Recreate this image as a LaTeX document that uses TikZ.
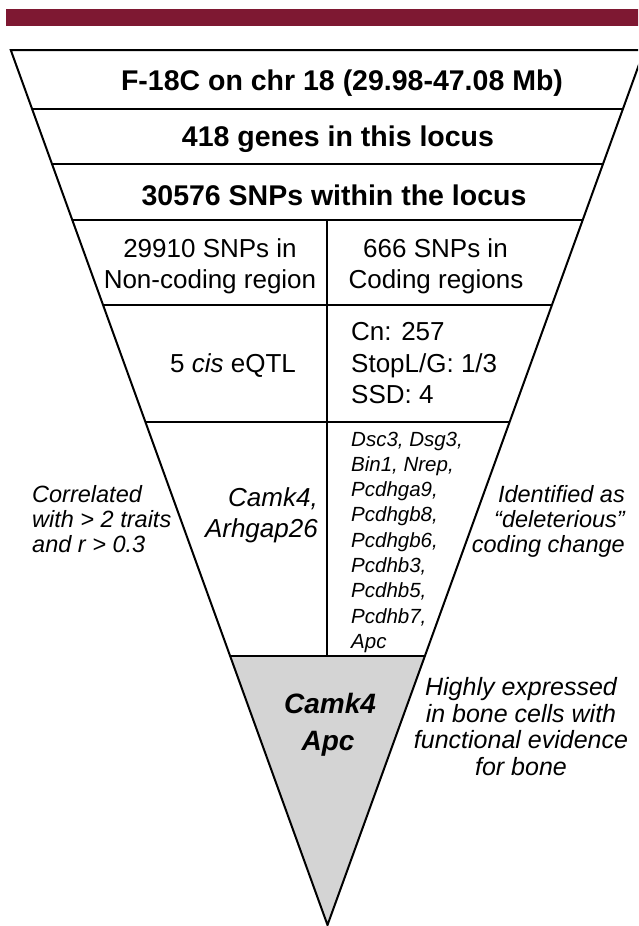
\documentclass[tikz,border=0pt]{standalone}
\usepackage{fontspec}
\setmainfont{Liberation Sans}
\definecolor{barred}{RGB}{126,24,50}
\definecolor{funnelgray}{RGB}{212,212,212}
\begin{document}
\begin{tikzpicture}[x=1pt,y=-1pt,
  outline/.style={line width=2pt,line join=miter},
  band/.style={line width=1.6pt},
  head/.style={font=\bfseries\fontsize{28.5}{34}\selectfont,inner sep=0pt,anchor=base},
  body/.style={font=\fontsize{26}{31}\selectfont,inner sep=0pt},
  gene/.style={font=\itshape\fontsize{20.5}{25}\selectfont,inner sep=0pt,anchor=base west},
  note/.style={font=\itshape\fontsize{23.5}{26}\selectfont,inner sep=0pt},
  pick/.style={font=\bfseries\itshape\fontsize{28}{34}\selectfont,inner sep=0pt,anchor=base},
  bonenote/.style={font=\itshape\fontsize{25}{27}\selectfont,inner sep=0pt,anchor=base}]
\useasboundingbox (0,0) rectangle (638,926);
\clip (0,0) rectangle (638,926);

% header bar
\fill[barred] (6,9) rectangle (640,26);

% funnel corners, row by row (left / right edge)
\coordinate (L0) at (10.75,50);  \coordinate (R0) at (644.25,50);
\coordinate (L1) at (32.1,109);  \coordinate (R1) at (622.9,109);
\coordinate (L2) at (52.0,164);  \coordinate (R2) at (603.0,164);
\coordinate (L3) at (72.3,220);  \coordinate (R3) at (582.7,220);
\coordinate (L4) at (103.1,305); \coordinate (R4) at (551.9,305);
\coordinate (L5) at (145.4,422); \coordinate (R5) at (509.6,422);
\coordinate (L6) at (230.1,656); \coordinate (R6) at (424.9,656);
\coordinate (tip) at (327.5,925);
\coordinate (splitTop) at (327,220);
\coordinate (splitBot) at (327,656);

% shaded final stage
\fill[funnelgray] (L6) -- (R6) -- (tip) -- cycle;

% row separators and column split
\draw[band] (L1) -- (R1);
\draw[band] (L2) -- (R2);
\draw[band] (L3) -- (R3);
\draw[band] (L4) -- (R4);
\draw[band] (L5) -- (R5);
\draw[band] (L6) -- (R6);
\draw[band] (splitTop) -- (splitBot);

% funnel outline
\draw[outline] (L0) -- (R0) -- (tip) -- cycle;

% full-width rows
\node[head] (locus) at (342,90) {F-18C on chr 18 (29.98-47.08 Mb)};
\node[head] (genes) at (338,146.5) {418 genes in this locus};
\node[head] (snps) at (334,205) {30576 SNPs within the locus};

% non-coding / coding split
\node[body,anchor=base] (nc1) at (210,257) {29910 SNPs in};
\node[body,anchor=base] (nc2) at (210,288) {Non-coding region};
\node[body,anchor=base] (cd1) at (435.5,257) {666 SNPs in};
\node[body,anchor=base] (cd2) at (436,288) {Coding regions};

% eQTL and coding classes
\node[body,anchor=base] (eqtl) at (233,372) {5 \textit{cis} eQTL};
\node[body,anchor=base west] (cn) at (351,340) {Cn: 257};
\node[body,anchor=base west] (stop) at (351,372) {StopL/G: 1/3};
\node[body,anchor=base west] (ssd) at (351,403) {SSD: 4};

% candidate genes
\node[body,font=\itshape\fontsize{26}{31}\selectfont,anchor=base east] (camk) at (318,506) {Camk4,};
\node[body,font=\itshape\fontsize{26}{31}\selectfont,anchor=base east] (arh) at (318,537) {Arhgap26};

\node[gene] (g1) at (351,446.0) {Dsc3, Dsg3,};
\node[gene] (g2) at (351,471.3) {Bin1, Nrep,};
\node[gene] (g3) at (351,496.6) {Pcdhga9,};
\node[gene] (g4) at (351,521.9) {Pcdhgb8,};
\node[gene] (g5) at (351,547.2) {Pcdhgb6,};
\node[gene] (g6) at (351,572.5) {Pcdhb3,};
\node[gene] (g7) at (351,597.8) {Pcdhb5,};
\node[gene] (g8) at (351,623.1) {Pcdhb7,};
\node[gene] (g9) at (351,648.4) {Apc};

% filter criteria beside the funnel
\node[note,anchor=base west] (c1) at (32,502) {Correlated};
\node[note,anchor=base west] (c2) at (32,527) {with > 2 traits};
\node[note,anchor=base west] (c3) at (32,552) {and r > 0.3};

\node[note,anchor=base east] (d1) at (625,502) {Identified as};
\node[note,anchor=base east] (d2) at (625,527) {“deleterious”};
\node[note,anchor=base east] (d3) at (625,552) {coding change};

% final candidates
\node[pick] (fin1) at (330,713) {Camk4};
\node[pick] (fin2) at (328,750) {Apc};

\node[bonenote] (b1) at (521,695) {Highly expressed};
\node[bonenote] (b2) at (521,722) {in bone cells with};
\node[bonenote] (b3) at (521,748) {functional evidence};
\node[bonenote] (b4) at (521,775) {for bone};
\end{tikzpicture}
\end{document}
